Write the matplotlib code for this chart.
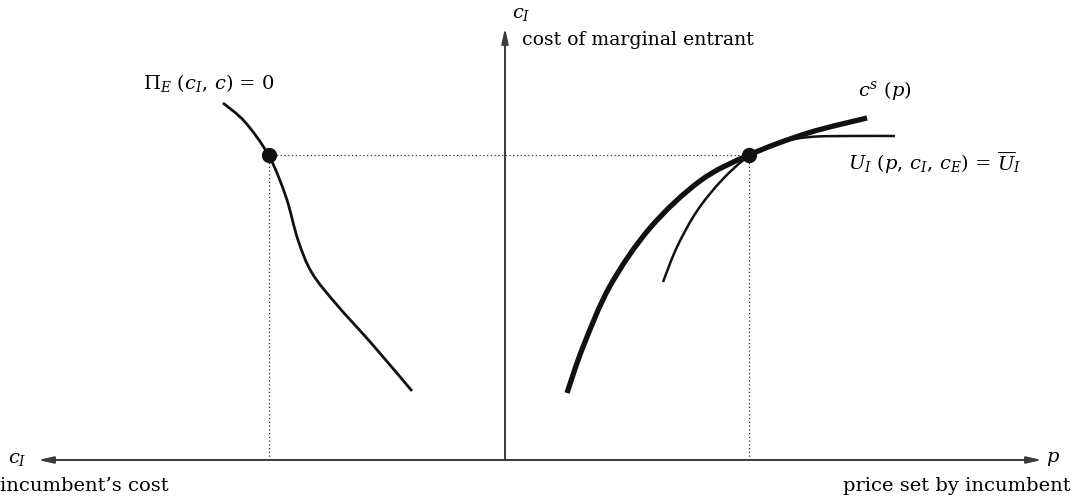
import matplotlib.pyplot as plt
from matplotlib.path import Path
from matplotlib.patches import PathPatch

plt.rcParams['mathtext.fontset'] = 'dejavuserif'
plt.rcParams['font.family'] = ['DejaVu Serif']

# curves (pixel space, y grows downward)
entry_x = [223, 245, 269, 286, 298, 312, 337, 372, 412]
entry_y = [103, 122, 156, 197, 240, 273, 305, 344, 391]

cs_x = [567, 583, 610, 650, 700, 749, 808, 867]
cs_y = [393, 347, 286, 228, 181, 155, 133, 118]

ui_x = [663, 677, 697, 722, 749, 777, 810, 850, 895]
ui_y = [282, 247, 211, 180, 156, 143, 137, 136, 136]

eq_x = [269, 749]
eq_y = [155, 155]
origin = (505, 460)


def smooth(xs, ys):
    # cubic bezier through the read points (catmull-rom tangents)
    pts = list(zip(xs, ys))
    n = len(pts)
    verts = [pts[0]]
    codes = [Path.MOVETO]
    for i in range(n - 1):
        p0 = pts[max(i - 1, 0)]
        p1 = pts[i]
        p2 = pts[i + 1]
        p3 = pts[min(i + 2, n - 1)]
        c1 = (p1[0] + (p2[0] - p0[0]) / 6, p1[1] + (p2[1] - p0[1]) / 6)
        c2 = (p2[0] - (p3[0] - p1[0]) / 6, p2[1] - (p3[1] - p1[1]) / 6)
        verts += [c1, c2, p2]
        codes += [Path.CURVE4] * 3
    return Path(verts, codes)


fig = plt.figure(figsize=(10.78, 4.99), dpi=100)
ax = fig.add_axes([0, 0, 1, 1])
ax.set_xlim(0, 1078)
ax.set_ylim(499, 0)
ax.axis('off')

axcol = '#3a3a3a'
ax.annotate('', xy=(38, origin[1]), xytext=(1042, origin[1]),
            arrowprops=dict(arrowstyle='<|-|>,head_length=0.9,head_width=0.2',
                            color=axcol, lw=1.4, shrinkA=0, shrinkB=0))
ax.annotate('', xy=(origin[0], 28), xytext=origin,
            arrowprops=dict(arrowstyle='-|>,head_length=0.9,head_width=0.2',
                            color=axcol, lw=1.4, shrinkA=0, shrinkB=0))

# dotted guides
ax.plot(eq_x, eq_y, ls=(0, (1, 2)), color='#333333', lw=0.9)
for x in eq_x:
    ax.plot([x, x], [eq_y[0], origin[1]], ls=(0, (1, 2)), color='#333333', lw=0.9)

ax.add_patch(PathPatch(smooth(entry_x, entry_y), fill=False, ec='#111111', lw=2.0, capstyle='butt'))
ax.add_patch(PathPatch(smooth(ui_x, ui_y), fill=False, ec='#111111', lw=1.8, capstyle='butt'))
ax.add_patch(PathPatch(smooth(cs_x, cs_y), fill=False, ec='#111111', lw=3.8, capstyle='butt'))
ax.plot(eq_x, eq_y, 'o', color='#111111', ms=10)

fs = 14
ax.text(143, 83, r'$\Pi_E\ (c_I,\,c)$ = 0', fontsize=fs, va='center', ha='left')
ax.text(858, 90, r'$c^s\ (p)$', fontsize=fs, va='center', ha='left')
ax.text(848, 163, r'$U_I\ (p,\,c_I,\,c_E)$ = $\overline{U}_I$', fontsize=fs, va='center', ha='left')
ax.text(512, 14, r'$c_I$', fontsize=fs, va='center', ha='left')
ax.text(522, 40, 'cost of marginal entrant', fontsize=13.6, va='center', ha='left')
ax.text(8, 459, r'$c_I$', fontsize=fs, va='center', ha='left')
ax.text(0, 486, 'incumbent\u2019s cost', fontsize=fs, va='center', ha='left')
ax.text(1046, 459, r'$p$', fontsize=fs, va='center', ha='left')
ax.text(1071, 486, 'price set by incumbent', fontsize=fs, va='center', ha='right')

fig.savefig('out.png', dpi=100)
